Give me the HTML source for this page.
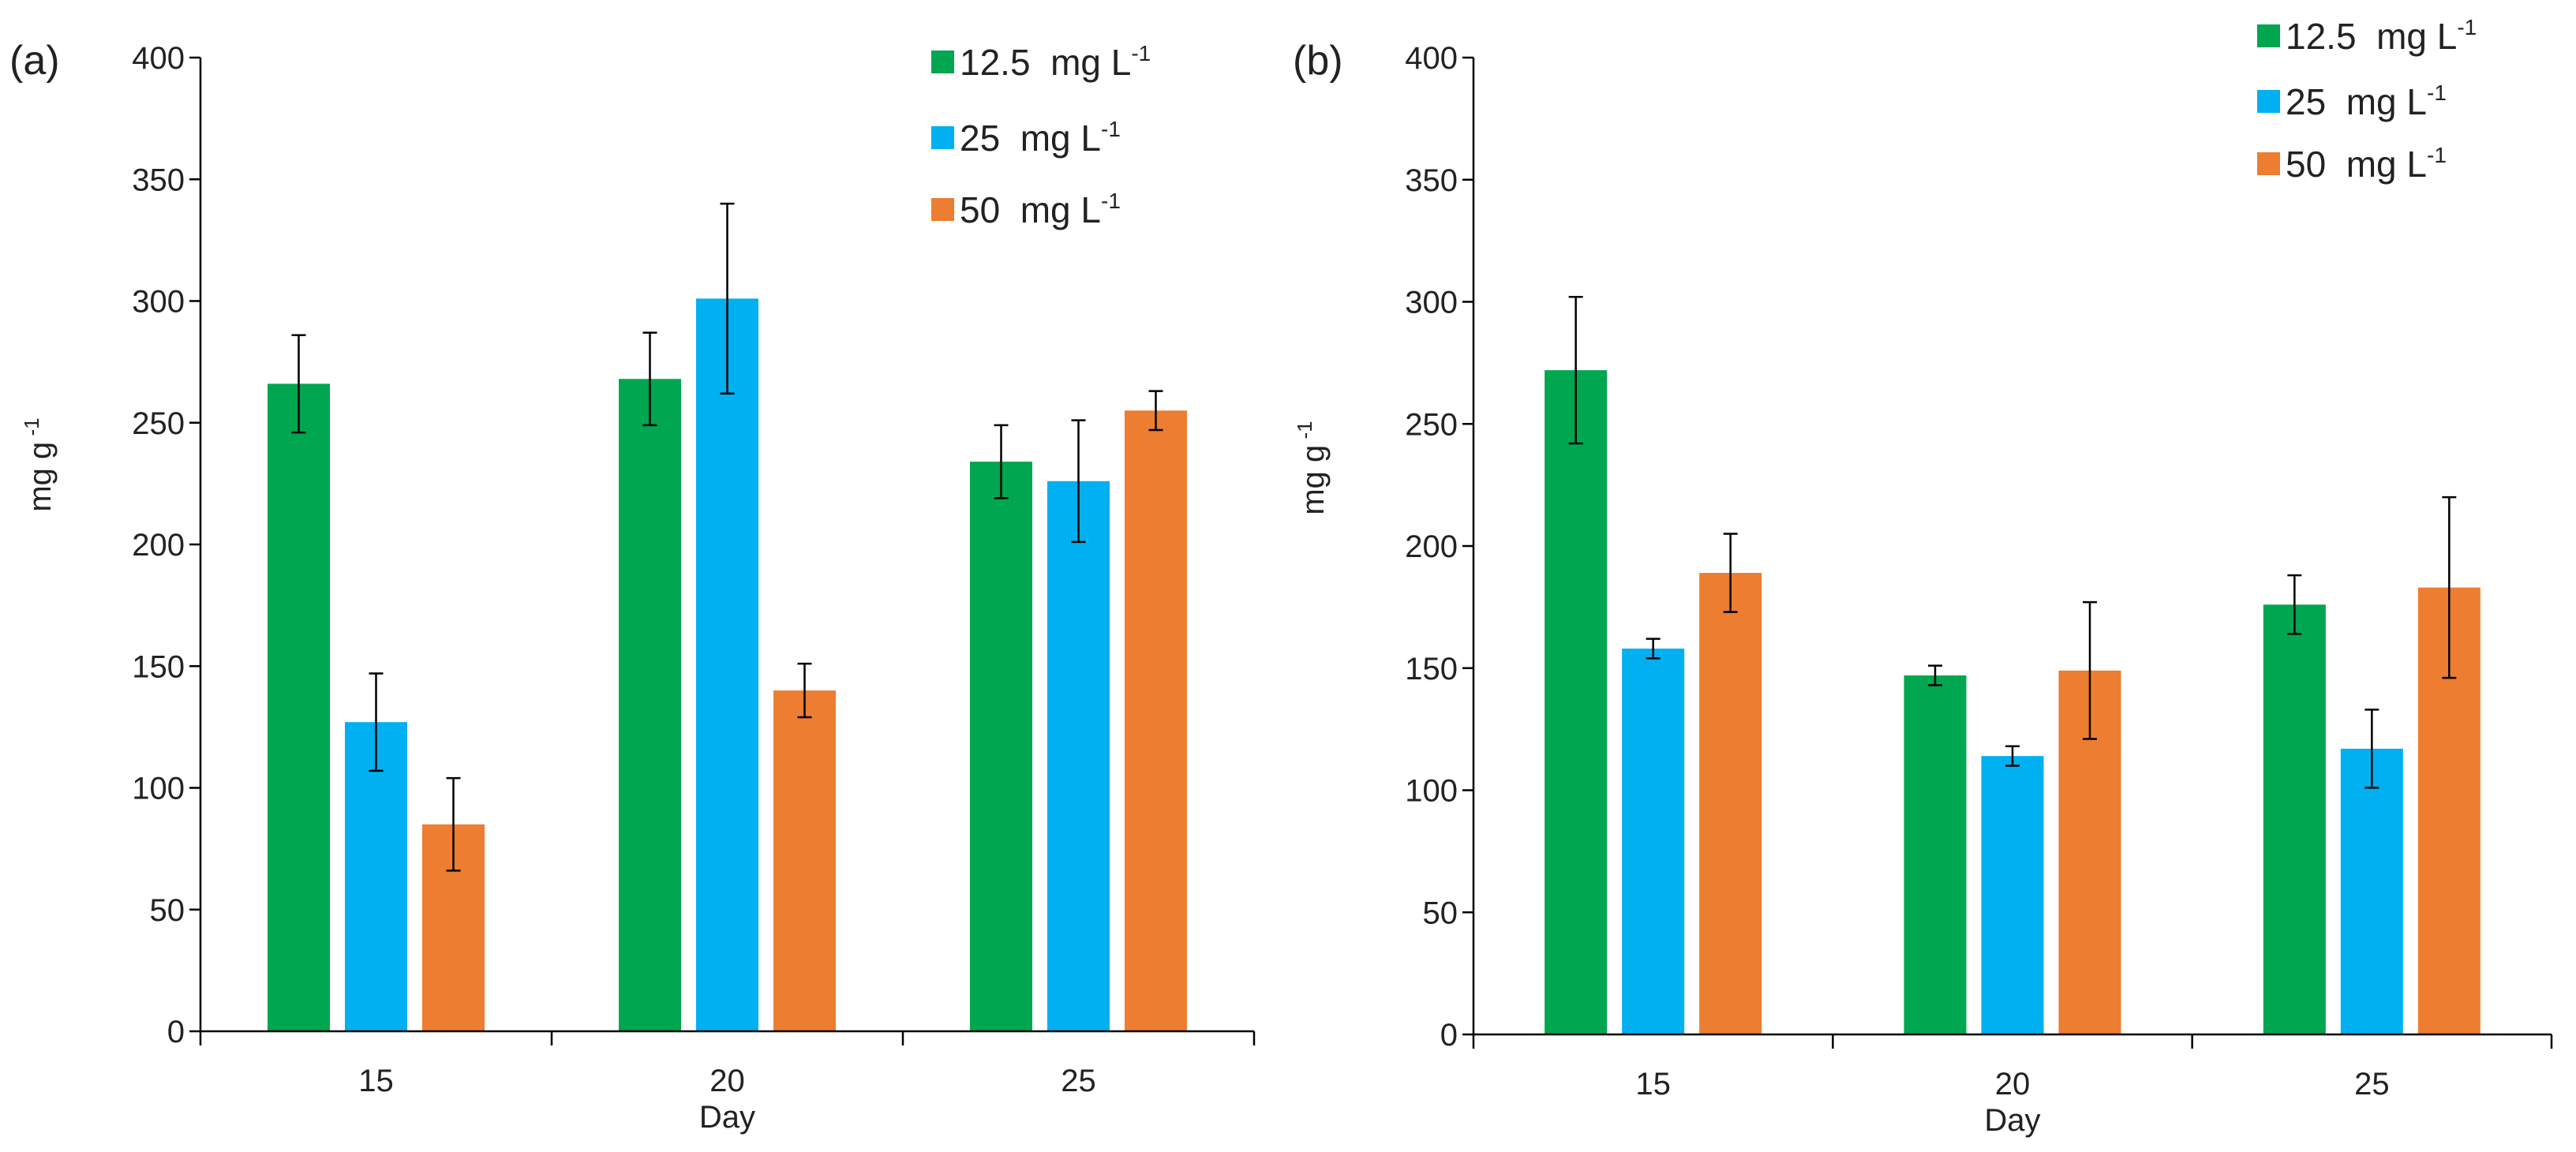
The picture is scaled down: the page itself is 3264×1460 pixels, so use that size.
<!DOCTYPE html>
<html><head><meta charset="utf-8"><style>
html,body{margin:0;padding:0;background:#fff;width:3264px;height:1460px;overflow:hidden}
svg{display:block;font-family:"Liberation Sans",Arial,sans-serif}
</style></head><body>
<svg id="c" width="3264" height="1460"></svg>
<script>
const categories = ["15","20","25"];
const seriesNames = ["12.5","25","50"];
const colors = ["#00a650","#00b0f0","#ed7d31"];
const yTicks = [0,50,100,150,200,250,300,350,400];
const aGreen = [266,268,234], aBlue = [127,301,226], aOrange = [85,140,255];
const aGreenErr = [20,19,15], aBlueErr = [20,39,25], aOrangeErr = [19,11,8];
const bGreen = [272,147,176], bBlue = [158,114,117], bOrange = [189,149,183];
const bGreenErr = [30,4,12], bBlueErr = [4,4,16], bOrangeErr = [16,28,37];

const NS="http://www.w3.org/2000/svg", svg=document.getElementById('c');
function mk(tag,attrs,parent){const e=document.createElementNS(NS,tag);for(const k in attrs)e.setAttribute(k,attrs[k]);(parent||svg).appendChild(e);return e;}
function txt(s,attrs,parent){const e=mk('text',attrs,parent);e.textContent=s;return e;}

function panel(p){
  const g=mk('g',{});
  
  
  const y=v=>p.y0-(v/400)*(p.y0-p.ytop);
  const cw=(p.x1-p.x0)/categories.length;
  const bw=79, step=98;
  p.vals.forEach((arr,si)=>{arr.forEach((v,ci)=>{
    const cx=p.x0+cw*(ci+0.5)+(si-1)*step;
    const r=mk('rect',{x:cx-bw/2,y:y(v),width:bw,height:p.y0-y(v),fill:colors[si]},g);
    
    
    const e=p.errs[si][ci];
    const eb=mk('path',{d:`M${cx},${y(v+e)}V${y(v-e)}M${cx-9},${y(v+e)}H${cx+9}M${cx-9},${y(v-e)}H${cx+9}`,stroke:'#000','stroke-width':2.5,fill:'none'},g);
    
    
  });});
  const ya=mk('path',{d:`M${p.x0},${p.ytop}V${p.y0}`,stroke:'#000','stroke-width':2.5},g);
  
  
  const xa=mk('path',{d:`M${p.x0},${p.y0}H${p.x1}`,stroke:'#000','stroke-width':2.5},g);
  
  
  yTicks.forEach(t=>{
    mk('path',{d:`M${p.x0-14},${y(t)}H${p.x0}`,stroke:'#000','stroke-width':2.5},g);
    const l=txt(String(t),{x:p.x0-20,y:y(t)+14,'text-anchor':'end','font-size':40,fill:'#222'},g);
    
    
  });
  for(let i=0;i<=categories.length;i++){
    mk('path',{d:`M${p.x0+cw*i},${p.y0}V${p.y0+18}`,stroke:'#000','stroke-width':2.5},g);
  }
  categories.forEach((c,ci)=>{
    const l=txt(c,{x:p.x0+cw*(ci+0.5),y:p.y0+76,'text-anchor':'middle','font-size':40,fill:'#222'},g);
    
    
  });
  const xt=txt('Day',{x:p.x0+cw*1.5,y:p.y0+122,'text-anchor':'middle','font-size':40,fill:'#222'},g);
  
  
  const yt=txt('',{transform:`translate(${p.x0-190},${p.y0-718}) rotate(-90)`,'text-anchor':'middle','font-size':40,fill:'#222'},g);
  yt.innerHTML='mg g<tspan dy="-15" font-size="26"> -1</tspan>';
  
  
  const pl=txt(p.label,{x:p.lx,y:94,'font-size':52,fill:'#222'},g);
  
  
  seriesNames.forEach((s,si)=>{
    const ry=p.legY[si];
    const sq=mk('rect',{x:p.legX,y:ry-15,width:29,height:29,fill:colors[si]},g);
    
    
    const t=txt('',{x:p.legX+36,y:ry+16,'font-size':46,fill:'#222','xml:space':'preserve'},g);
    t.setAttribute('style','white-space:pre');
    t.innerHTML=s+'  mg L<tspan dy="-18" font-size="28">-1</tspan>';
    
    
  });
}
panel({id:'a',label:'(a)',lx:12,x0:254,x1:1589,ytop:73,y0:1307,
  vals:[aGreen,aBlue,aOrange],errs:[aGreenErr,aBlueErr,aOrangeErr],
  legX:1180,legY:[79,175,266]});
panel({id:'b',label:'(b)',lx:1638,x0:1867,x1:3233,ytop:73,y0:1311,
  vals:[bGreen,bBlue,bOrange],errs:[bGreenErr,bBlueErr,bOrangeErr],
  legX:2860,legY:[46,129,208]});
</script>
</body></html>
